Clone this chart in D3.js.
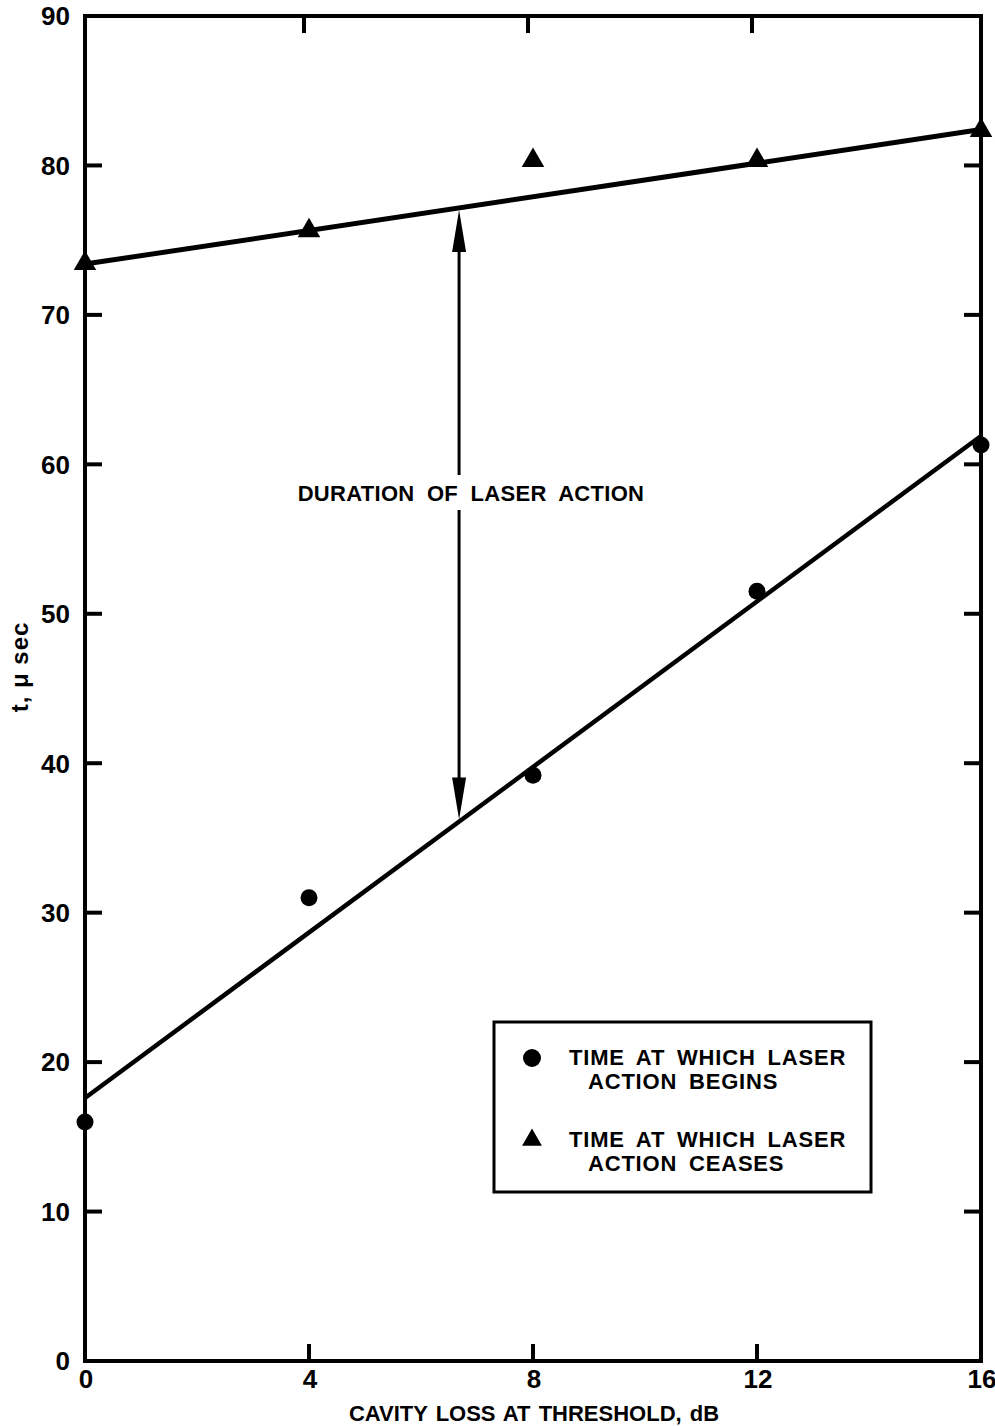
<!DOCTYPE html>
<html>
<head>
<meta charset="utf-8">
<script src="https://cdn.jsdelivr.net/npm/d3@7"></script>
<style>
  html, body { margin: 0; padding: 0; background: #fff; }
  svg { display: block; }
  text { font-family: "Liberation Sans", Arial, sans-serif; font-weight: bold; fill: #000; }
</style>
</head>
<body>
<svg id="chart" width="995" height="1426"></svg>
<script>
// Cavity loss at threshold (dB)
const lossDb = [0, 4, 8, 12, 16];
// Time at which laser action begins (µs)
const beginTimes = [16.0, 31.0, 39.2, 51.5, 61.3];
// Time at which laser action ceases (µs)
const ceaseTimes = [73.3, 75.5, 80.2, 80.2, 82.2];
// Straight-line fits, endpoints at 0 and 16 dB
const beginFit = [[0, 17.6], [16, 61.9]];
const ceaseFit = [[0, 73.4], [16, 82.4]];
// Duration arrow position (dB)
const arrowLoss = 6.68;

const xTicks = [0, 4, 8, 12, 16];
const yTicks = [0, 10, 20, 30, 40, 50, 60, 70, 80, 90];

const svg = d3.select("#chart");
const plotL = 85, plotR = 981, plotT = 16, plotB = 1361;

const x = d3.scaleLinear().domain([0, 16]).range([plotL, plotR]);
const y = d3.scaleLinear().domain([0, 90]).range([plotB, plotT]);

const g = svg.append("g");

// Frame
g.append("rect")
  .attr("x", plotL).attr("y", plotT)
  .attr("width", plotR - plotL).attr("height", plotB - plotT)
  .attr("fill", "none").attr("stroke", "#000").attr("stroke-width", 4);

const tickLen = 17;
// Inward ticks on all four sides (interior values only)
const innerY = yTicks.filter(v => v > 0 && v < 90);
const innerX = xTicks.filter(v => v > 0 && v < 16);
g.selectAll(".ytl").data(innerY).join("line")
  .attr("x1", plotL).attr("x2", plotL + tickLen)
  .attr("y1", d => y(d)).attr("y2", d => y(d))
  .attr("stroke", "#000").attr("stroke-width", 4);
g.selectAll(".ytr").data(innerY).join("line")
  .attr("x1", plotR).attr("x2", plotR - tickLen)
  .attr("y1", d => y(d)).attr("y2", d => y(d))
  .attr("stroke", "#000").attr("stroke-width", 4);
g.selectAll(".xtb").data(innerX).join("line")
  .attr("x1", d => x(d)).attr("x2", d => x(d))
  .attr("y1", plotB).attr("y2", plotB - tickLen)
  .attr("stroke", "#000").attr("stroke-width", 4);
g.selectAll(".xtt").data(innerX).join("line")
  .attr("x1", d => x(d) - 5).attr("x2", d => x(d) - 5)
  .attr("y1", plotT).attr("y2", plotT + tickLen)
  .attr("stroke", "#000").attr("stroke-width", 4);

// Tick labels
g.selectAll(".yl").data(yTicks).join("text")
  .attr("x", 70).attr("y", d => y(d))
  .attr("dy", "0.36em")
  .attr("text-anchor", "end")
  .attr("font-size", 26)
  .text(d => d);
g.selectAll(".xl").data(xTicks).join("text")
  .attr("x", d => x(d) + 1).attr("y", 1388)
  .attr("text-anchor", "middle")
  .attr("font-size", 26)
  .text(d => d);

// Axis titles
g.append("text")
  .attr("x", 534).attr("y", 1421)
  .attr("text-anchor", "middle")
  .attr("font-size", 22)
  .attr("letter-spacing", 0)
  .attr("word-spacing", 2)
  .text("CAVITY LOSS AT THRESHOLD, dB");
g.append("text")
  .attr("transform", "translate(28,667) rotate(-90)")
  .attr("text-anchor", "middle")
  .attr("font-size", 24)
  .attr("letter-spacing", 1)
  .text("t, μ sec");

// Fit lines
const line = d3.line().x(d => x(d[0])).y(d => y(d[1]));
g.append("path").attr("d", line(ceaseFit))
  .attr("fill", "none").attr("stroke", "#000").attr("stroke-width", 5);
g.append("path").attr("d", line(beginFit))
  .attr("fill", "none").attr("stroke", "#000").attr("stroke-width", 4.5);

// Duration arrow between the two fits
const at = (fit, v) => fit[0][1] + (fit[1][1] - fit[0][1]) * (v - fit[0][0]) / (fit[1][0] - fit[0][0]);
const ax = x(arrowLoss);
const yTop = y(at(ceaseFit, arrowLoss)) + 2;
const yBot = y(at(beginFit, arrowLoss)) - 2;
const labelY = 493;
const headLen = 42, headW = 7;
g.append("line").attr("x1", ax).attr("x2", ax)
  .attr("y1", yTop + headLen - 2).attr("y2", 475)
  .attr("stroke", "#000").attr("stroke-width", 3);
g.append("line").attr("x1", ax).attr("x2", ax)
  .attr("y1", 510).attr("y2", yBot - headLen + 2)
  .attr("stroke", "#000").attr("stroke-width", 3);
g.append("path")
  .attr("d", `M${ax},${yTop} L${ax - headW},${yTop + headLen} L${ax + headW},${yTop + headLen} Z`)
  .attr("fill", "#000");
g.append("path")
  .attr("d", `M${ax},${yBot} L${ax - headW},${yBot - headLen} L${ax + headW},${yBot - headLen} Z`)
  .attr("fill", "#000");
g.append("text")
  .attr("x", 471).attr("y", labelY + 8)
  .attr("text-anchor", "middle")
  .attr("font-size", 22)
  .attr("letter-spacing", 0.3)
  .attr("word-spacing", 6)
  .text("DURATION OF LASER ACTION");

// Markers
const tri = d3.symbol().type(d3.symbolTriangle).size(220);
g.selectAll(".cease").data(lossDb).join("path")
  .attr("transform", (d, i) => `translate(${x(d)},${y(ceaseTimes[i]) - 2})`)
  .attr("d", tri)
  .attr("fill", "#000");
g.selectAll(".begin").data(lossDb).join("circle")
  .attr("cx", d => x(d)).attr("cy", (d, i) => y(beginTimes[i]))
  .attr("r", 8.5)
  .attr("fill", "#000");

// Legend
const lg = g.append("g");
lg.append("rect")
  .attr("x", 494).attr("y", 1022).attr("width", 377).attr("height", 170)
  .attr("fill", "#fff").attr("stroke", "#000").attr("stroke-width", 3);
lg.append("circle").attr("cx", 532).attr("cy", 1058).attr("r", 9).attr("fill", "#000");
lg.append("path").attr("transform", "translate(532,1140)")
  .attr("d", d3.symbol().type(d3.symbolTriangle).size(170)).attr("fill", "#000");
const legendRows = [
  ["TIME AT WHICH LASER", 569, 1065],
  ["ACTION BEGINS", 588, 1089],
  ["TIME AT WHICH LASER", 569, 1147],
  ["ACTION CEASES", 588, 1171]
];
lg.selectAll("text").data(legendRows).join("text")
  .attr("x", d => d[1]).attr("y", d => d[2])
  .attr("font-size", 22)
  .attr("letter-spacing", 0.8)
  .attr("word-spacing", 5)
  .text(d => d[0]);
</script>
</body>
</html>
